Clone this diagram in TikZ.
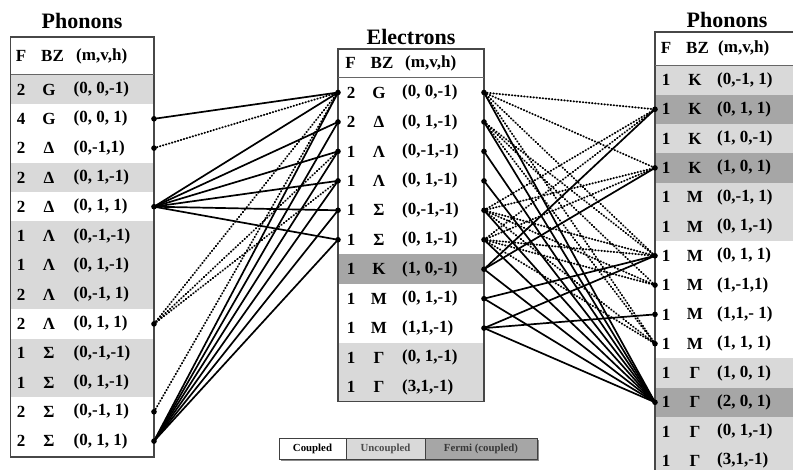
\documentclass[tikz,border=0pt]{standalone}
\usepackage{fontspec}
\setmainfont{Liberation Serif}
\begin{document}
\begin{tikzpicture}[x=1pt,y=-1pt,
  bx/.style={draw=black!72,line width=1.4pt},
  hline/.style={draw=black!60,line width=1.1pt},
  lite/.style={fill=black!15},
  dark/.style={fill=black!35},
  cell/.style={inner sep=0pt,font=\fontsize{17}{19}\selectfont\bfseries},
  ttl/.style={inner sep=0pt,font=\fontsize{22}{24}\selectfont\bfseries},
  leg/.style={inner sep=0pt,font=\fontsize{10.8}{12}\selectfont\bfseries},
  sol/.style={line width=1.7pt},
  dotl/.style={line width=1.9pt,line cap=round,dash pattern=on 0.6pt off 2.5pt}]
\useasboundingbox (0,0) rectangle (793,470);
\clip (0,0) rectangle (793,470);
\fill[white] (0,0) rectangle (793,470);

% ---------------- left table (Phonons) ----------------
\foreach \i in {1,4,6,7,8,10,11}{
  \pgfmathsetmacro\y{89.5+29.3*(\i-1)}
  \fill[lite] (10.5,\y-14.65) rectangle (154,\y+14.65);
}
\draw[bx] (10.5,37) rectangle (154,457);
\draw[hline] (10.5,74.85) -- (154,74.85);
\node[ttl] (Ltitle) at (82,21) {Phonons};
\node[cell] (LhF) at (21,56) {F};
\node[cell] (LhB) at (52.5,56) {BZ};
\node[cell,anchor=west] (LhT) at (76,56) {(m,v,h)};
\foreach \i/\f/\b/\t in {1/2/G/{(0, 0,-1)},2/4/G/{(0, 0, 1)},3/2/Δ/{(0,-1,1)},
  4/2/Δ/{(0, 1,-1)},5/2/Δ/{(0, 1, 1)},6/1/Λ/{(0,-1,-1)},7/1/Λ/{(0, 1,-1)},
  8/2/Λ/{(0,-1, 1)},9/2/Λ/{(0, 1, 1)},10/1/Σ/{(0,-1,-1)},11/1/Σ/{(0, 1,-1)},
  12/2/Σ/{(0,-1, 1)},13/2/Σ/{(0, 1, 1)}}{
  \pgfmathsetmacro\y{89.5+29.3*(\i-1)}
  \node[cell] (LF\i) at (21,\y) {\f};
  \node[cell] (LB\i) at (49,\y) {\b};
  \node[cell,anchor=west] (LT\i) at (73.5,\y) {\t};
  \coordinate (Ld\i) at (154,\y);
}

% ---------------- middle table (Electrons) ----------------
\pgfmathsetmacro\ya{92.5+29.45*6}
\fill[dark] (338,\ya-14.7) rectangle (484,\ya+14.7);
\pgfmathsetmacro\yb{92.5+29.45*9-14.7}
\fill[lite] (338,\yb) rectangle (484,401.7);
\draw[bx] (338,49) rectangle (484,401.7);
\draw[hline] (338,77.8) -- (484,77.8);
\node[ttl] (Etitle) at (411,37) {Electrons};
\node[cell] (EhF) at (350.5,63) {F};
\node[cell] (EhB) at (382,63) {BZ};
\node[cell,anchor=west] (EhT) at (405,63) {(m,v,h)};
\foreach \i/\f/\b/\t in {1/2/G/{(0, 0,-1)},2/2/Δ/{(0, 1,-1)},3/1/Λ/{(0,-1,-1)},
  4/1/Λ/{(0, 1,-1)},5/1/Σ/{(0,-1,-1)},6/1/Σ/{(0, 1,-1)},7/1/K/{(1, 0,-1)},
  8/1/M/{(0, 1,-1)},9/1/M/{(1,1,-1)},10/1/Γ/{(0, 1,-1)},11/1/Γ/{(3,1,-1)}}{
  \pgfmathsetmacro\y{92.5+29.45*(\i-1)}
  \node[cell] (EF\i) at (351,\y) {\f};
  \node[cell] (EB\i) at (379,\y) {\b};
  \node[cell,anchor=west] (ET\i) at (402,\y) {\t};
  \coordinate (Eld\i) at (338,\y);
  \coordinate (Erd\i) at (484,\y);
}

% ---------------- right table (Phonons) ----------------
\foreach \i in {1,3,5,6,11,13,14}{
  \pgfmathsetmacro\y{80+29.3*(\i-1)}
  \fill[lite] (655,\y-14.65) rectangle (800,\y+14.65);
}
\foreach \i in {2,4,12}{
  \pgfmathsetmacro\y{80+29.3*(\i-1)}
  \fill[dark] (655,\y-14.65) rectangle (800,\y+14.65);
}
\draw[bx] (655,32) rectangle (805,490);
\draw[hline] (655,65.35) -- (805,65.35);
\node[ttl] (Rtitle) at (727,20) {Phonons};
\node[cell] (RhF) at (666,48) {F};
\node[cell] (RhB) at (697.5,48) {BZ};
\node[cell,anchor=west] (RhT) at (718,48) {(m,v,h)};
\foreach \i/\b/\t in {1/K/{(0,-1, 1)},2/K/{(0, 1, 1)},3/K/{(1, 0,-1)},4/K/{(1, 0, 1)},
  5/M/{(0,-1, 1)},6/M/{(0, 1,-1)},7/M/{(0, 1, 1)},8/M/{(1,-1,1)},9/M/{(1,1,- 1)},
  10/M/{(1, 1, 1)},11/Γ/{(1, 0, 1)},12/Γ/{(2, 0, 1)},13/Γ/{(0, 1,-1)},14/Γ/{(3,1,-1)}}{
  \pgfmathsetmacro\y{80+29.3*(\i-1)}
  \node[cell] (RF\i) at (666,\y) {1};
  \node[cell] (RB\i) at (695,\y) {\b};
  \node[cell,anchor=west] (RT\i) at (717,\y) {\t};
  \coordinate (Rd\i) at (655,\y);
}

% ---------------- legend ----------------
\fill[black!45] (281,440) rectangle (539,461);
\fill[white] (279,438) rectangle (346,459);
\fill[lite] (346,438) rectangle (425,459);
\fill[dark] (425,438) rectangle (537,459);
\draw[black!75,line width=0.9pt] (279,438) rectangle (537,459);
\draw[black!75,line width=0.9pt] (346,438) -- (346,459) (425,438) -- (425,459);
\node[leg] (lg1) at (312.5,448.5) {Coupled};
\node[leg,text=black!70] (lg2) at (385.5,448.5) {Uncoupled};
\node[leg,text=black!78] (lg3) at (481,448.5) {Fermi (coupled)};

% ---------------- connectors: left phonons -> electrons ----------------
\foreach \a/\b in {2/1,5/1,5/2,5/3,5/4,5/5,5/6,13/1,13/2,13/3,13/4,13/5,13/6}
  \draw[sol] (Ld\a) -- (Eld\b);
\foreach \a/\b in {3/1,9/1,9/3,9/4,12/1}
  \draw[dotl] (Ld\a) -- (Eld\b);

% ---------------- connectors: electrons -> right phonons ----------------
\foreach \a/\b in {1/2,1/4,1/7,1/10,2/7,2/8,2/10,5/2,5/4,5/7,5/8,5/10,6/2,6/4,6/7,6/8,6/10}
  \draw[dotl] (Erd\a) -- (Rd\b);
\foreach \a/\b in {7/2,7/4,7/12,8/7,8/12,9/7,9/9,9/12,1/12,2/12,3/12,4/12,5/12,6/12}
  \draw[sol] (Erd\a) -- (Rd\b);

% ---------------- dots ----------------
\foreach \i in {2,3,5,9,12,13} \fill (Ld\i) circle (2.8pt);
\foreach \i in {1,2,3,4,5,6} \fill (Eld\i) circle (2.8pt);
\foreach \i in {1,2,3,4,5,6,7,8,9} \fill (Erd\i) circle (2.8pt);
\foreach \i in {2,4,7,8,9,10,12} \fill (Rd\i) circle (2.8pt);
\end{tikzpicture}
\end{document}
